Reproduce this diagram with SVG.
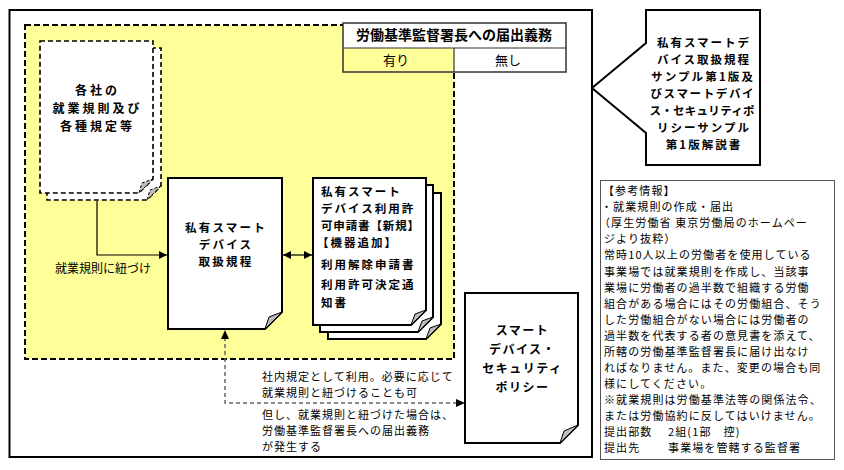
<svg xmlns="http://www.w3.org/2000/svg" width="844" height="470" viewBox="0 0 844 470">
<style>
text{font-family:"Noto Sans CJK JP","Noto Sans CJK SC",sans-serif;fill:#000}
.b{font-weight:bold}
.doc{fill:#fff;stroke:#000;stroke-width:2}
.dd{fill:#fff;stroke:#000;stroke-width:1.6;stroke-dasharray:5,3}
.fold{fill:#bbb;stroke:#000;stroke-width:1}
.foldd{fill:#bbb;stroke:#000;stroke-width:1;stroke-dasharray:3,2}
.ln{fill:none;stroke:#000;stroke-width:1.2}
.dl{fill:none;stroke:#666;stroke-width:1.5;stroke-dasharray:4,3}
.mid{text-anchor:middle}
.t1{font-size:12px;letter-spacing:3px}
.t2{font-size:11.5px;letter-spacing:2.2px}
.t3{font-size:11.5px;letter-spacing:2px}
.t4{font-size:12px;letter-spacing:1.5px}
.t5{font-size:11.5px;letter-spacing:2px}
.t6{font-size:11px;letter-spacing:1.1px}
.t7{font-size:11px;letter-spacing:1px}
</style>
<defs>
<marker id="ah" viewBox="0 0 10 10" refX="10" refY="5" markerWidth="8" markerHeight="8" markerUnits="userSpaceOnUse" orient="auto-start-reverse"><path d="M0,0 L10,5 L0,10 Z" fill="#000"/></marker>
</defs>
<rect width="844" height="470" fill="#fff"/>
<g id="frame"><rect x="9.5" y="10" width="582.5" height="447" fill="none" stroke="#000" stroke-width="2"/></g>
<g id="zone"><rect x="25" y="25" width="429" height="334" fill="#FFFF99" stroke="#000" stroke-width="2" stroke-dasharray="6,3"/></g>
<g id="table">
<rect x="343" y="23" width="223" height="25" fill="#fff"/>
<rect x="343" y="48" width="111" height="24" fill="#FFFF99"/>
<rect x="454" y="48" width="112" height="24" fill="#fff"/>
<rect x="343" y="23" width="223" height="49" fill="none" stroke="#333" stroke-width="1.5"/>
<line x1="343" y1="48" x2="566" y2="48" stroke="#333" stroke-width="1.2"/>
<line x1="454" y1="48" x2="454" y2="72" stroke="#333" stroke-width="1.2"/>
<text x="454" y="40" class="b mid" font-size="14">労働基準監督署長への届出義務</text>
<text x="396" y="64.5" class="mid" font-size="13">有り</text>
<text x="508" y="64.5" class="mid" font-size="13">無し</text>
</g>
<g id="doc-rules">
<path class="dd" d="M47 48 H161 V186 L147 200 H47 Z"/>
<path class="foldd" d="M161 186 L147 200 L150 190 Z"/>
<path class="dd" d="M40 41 H153 V179 L139 193 H40 Z"/>
<path class="foldd" d="M153 179 L139 193 L142 183 Z"/>
<text x="97.5" y="94.6" class="b mid t1">各社の</text>
<text x="97.5" y="112.6" class="b mid t1">就業規則及び</text>
<text x="97.5" y="130.6" class="b mid t1">各種規定等</text>
</g>
<g id="doc-main">
<path class="doc" d="M168 178 H282 V312 L265 329 H168 Z"/>
<path class="fold" d="M282 312 L265 329 L269 317 Z"/>
<text x="226" y="232.4" class="b mid t2">私有スマート</text>
<text x="226" y="249.4" class="b mid t2">デバイス</text>
<text x="226" y="266.4" class="b mid t2">取扱規程</text>
</g>
<g id="doc-forms">
<path class="doc" d="M328 193 H441 V324 L426 339 H328 Z"/>
<path class="fold" d="M441 324 L426 339 L430 328 Z"/>
<path class="doc" d="M320 185 H433 V317 L418 332 H320 Z"/>
<path class="fold" d="M433 317 L418 332 L422 321 Z"/>
<path class="doc" d="M313 178 H426 V310 L411 325 H313 Z"/>
<path class="fold" d="M426 310 L411 325 L415 314 Z"/>
<text x="321" y="196.4" class="b t3">私有スマート</text>
<text x="321" y="213.4" class="b t3">デバイス利用許</text>
<text x="321" y="230.4" class="b t3" textLength="100" lengthAdjust="spacing">可申請書【新規】</text>
<text x="317" y="247.4" class="b t3">【機器追加】</text>
<text x="321" y="269.4" class="b t3">利用解除申請書</text>
<text x="321" y="289.4" class="b t3">利用許可決定通</text>
<text x="321" y="307.4" class="b t3">知書</text>
</g>
<g id="doc-policy">
<path class="doc" d="M465 293 H578 V425 L560 443 H465 Z"/>
<path class="fold" d="M578 425 L560 443 L564 431 Z"/>
<text x="522.5" y="334.6" class="b mid t4">スマート</text>
<text x="522.5" y="353.6" class="b mid t4">デバイス・</text>
<text x="522.5" y="372.6" class="b mid t4">セキュリティ</text>
<text x="522.5" y="391.6" class="b mid t4">ポリシー</text>
</g>
<g id="callout">
<path d="M646 10 H760 V165 H646 V133 L592 88 L646 43 Z" fill="#fff" stroke="#000" stroke-width="2"/>
<text x="704" y="47.4" class="b mid t5">私有スマートデ</text>
<text x="704" y="64.4" class="b mid t5">バイス取扱規程</text>
<text x="703" y="81.4" class="b mid t5" textLength="104" lengthAdjust="spacing">サンプル第1版及</text>
<text x="703" y="98.4" class="b mid t5" textLength="105" lengthAdjust="spacing">びスマートデバイ</text>
<text x="703" y="115.4" class="b mid t5" textLength="107" lengthAdjust="spacing">ス・セキュリティポ</text>
<text x="704" y="132.4" class="b mid t5">リシーサンプル</text>
<text x="704" y="149.4" class="b mid t5">第1版解説書</text>
</g>
<g id="info">
<rect x="600.5" y="180.5" width="234" height="279" fill="#fff" stroke="#555" stroke-width="1"/>
<text x="603" y="195.2" class="t6">【参考情報】</text>
<text x="601" y="211.3" class="t6">・就業規則の作成・届出</text>
<text x="599" y="227.3" class="t6">（厚生労働省 東京労働局のホームペー</text>
<text x="604" y="243.4" class="t6">ジより抜粋）</text>
<text x="604" y="259.4" class="t6">常時10人以上の労働者を使用している</text>
<text x="604" y="275.5" class="t6">事業場では就業規則を作成し、当該事</text>
<text x="604" y="291.6" class="t6">業場に労働者の過半数で組織する労働</text>
<text x="604" y="307.6" class="t6">組合がある場合にはその労働組合、そう</text>
<text x="604" y="323.7" class="t6">した労働組合がない場合には労働者の</text>
<text x="604" y="339.7" class="t6">過半数を代表する者の意見書を添えて、</text>
<text x="604" y="355.8" class="t6">所轄の労働基準監督署長に届け出なけ</text>
<text x="604" y="371.9" class="t6">ればなりません。また、変更の場合も同</text>
<text x="604" y="387.9" class="t6">様にしてください。</text>
<text x="604" y="404" class="t6">※就業規則は労働基準法等の関係法令、</text>
<text x="604" y="420" class="t6">または労働協約に反してはいけません。</text>
<text x="604" y="436.1" class="t6" xml:space="preserve">提出部数　 2組(1部　控)</text>
<text x="604" y="452.2" class="t6" xml:space="preserve">提出先　　 事業場を管轄する監督署</text>
</g>
<g id="connectors">
<path class="ln" d="M97 201 V255 H167" marker-end="url(#ah)"/>
<path class="ln" d="M283 255 H312" marker-start="url(#ah)" marker-end="url(#ah)"/>
<path class="dl" d="M225 337 V403 H458"/>
<path d="M225 330 L221 339 L229 339 Z" fill="#000"/>
<path d="M465 403 L456 399 L456 407 Z" fill="#000"/>
<text x="55" y="272.5" font-size="12">就業規則に紐づけ</text>
<text x="262" y="381.2" class="t7">社内規定として利用。必要に応じて</text>
<text x="262" y="397.2" class="t7">就業規則と紐づけることも可</text>
<text x="262" y="419.2" class="t7">但し、就業規則と紐づけた場合は、</text>
<text x="262" y="435.2" class="t7">労働基準監督署長への届出義務</text>
<text x="262" y="451.2" class="t7">が発生する</text>
</g>
</svg>
